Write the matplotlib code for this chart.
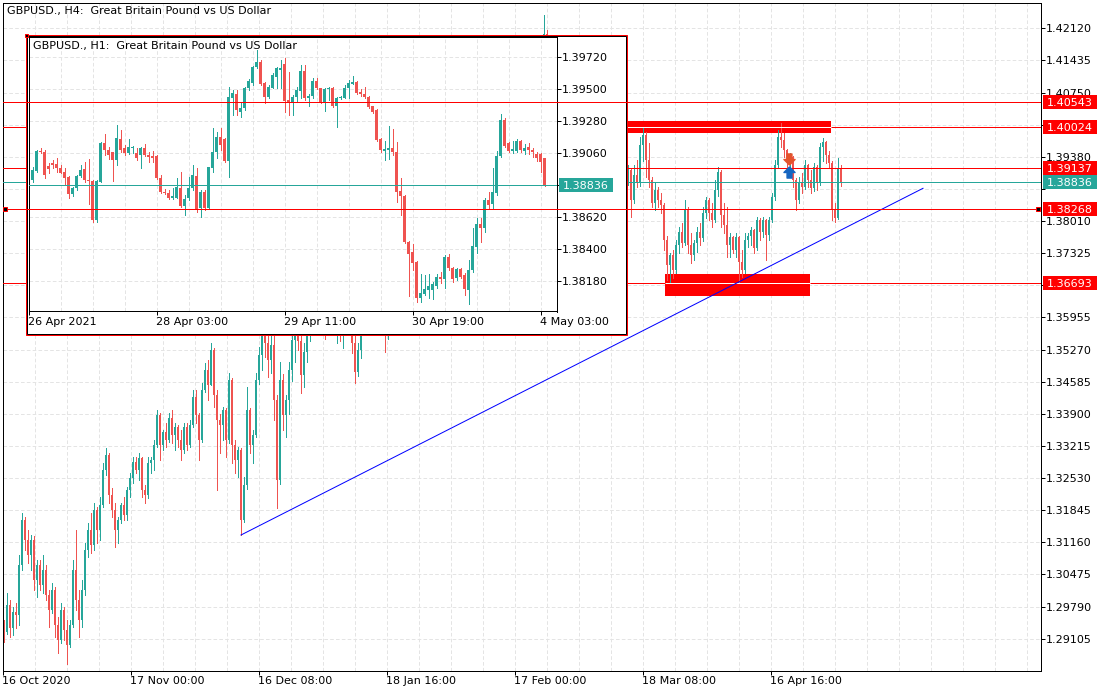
import numpy as np
import matplotlib
matplotlib.use("Agg")
import matplotlib.pyplot as plt
from matplotlib.patches import Rectangle
from matplotlib.path import Path
from matplotlib.transforms import IdentityTransform

plt.rcParams['font.family'] = ['DejaVu Sans']
plt.rcParams['font.size'] = 8
plt.rcParams['lines.scale_dashes'] = False

# ---------------- data ----------------
main_title = "GBPUSD., H4:  Great Britain Pound vs US Dollar"
inset_title = "GBPUSD., H1:  Great Britain Pound vs US Dollar"

main_date_labels = ["16 Oct 2020", "17 Nov 00:00", "16 Dec 08:00", "18 Jan 16:00",
                    "17 Feb 00:00", "18 Mar 08:00", "16 Apr 16:00"]
main_date_bars = [0, 128, 256, 384, 512, 640, 768]
main_price_ticks = [1.29105, 1.29790, 1.30475, 1.31160, 1.31845, 1.32530, 1.33215,
                    1.33900, 1.34585, 1.35270, 1.35955, 1.36640, 1.37325, 1.38010,
                    1.38695, 1.39380, 1.40065, 1.40750, 1.41435, 1.42120]
# tick labels covered by the level boxes on the price scale
main_hidden_ticks = [1.36640, 1.38695, 1.40065]

# H4 chart, each candle = 3 H4 bars (12 h)
main_open = [
    1.2940,1.2925,1.2982,1.2933,1.2967,1.2961,1.3068,1.3164,1.3121,1.3089,
    1.3121,1.3036,1.3068,1.3025,1.3057,1.3004,1.2972,1.3014,1.2940,1.2908,
    1.2972,1.2929,1.2897,1.2940,1.3057,1.2993,1.2950,1.3014,1.3100,1.3142,
    1.3110,1.3185,1.3142,1.3196,1.3270,1.3302,1.3217,1.3185,1.3142,1.3164,
    1.3196,1.3174,1.3228,1.3253,1.3287,1.3270,1.3295,1.3228,1.3217,1.3285,
    1.3291,1.3323,1.3387,1.3323,1.3351,1.3334,1.3381,1.3345,1.3362,1.3334,
    1.3313,1.3362,1.3323,1.3366,1.3426,1.3387,1.3334,1.3441,1.3483,1.3451,
    1.3526,1.3430,1.3377,1.3366,1.3398,1.3334,1.3462,1.3323,1.3291,1.3313,
    1.3164,1.3238,1.3398,1.3323,1.3345,1.3462,1.3515,1.3558,1.3540,1.3505,
    1.3537,1.3420,1.3249,1.3462,1.3387,1.3420,1.3483,1.3547,1.3580,1.3545,
    1.3473,1.3522,1.3575,1.3620,1.3600,1.3625,1.3610,1.3640,1.3605,1.3620,
    1.3600,1.3585,1.3610,1.3560,1.3590,1.3620,1.3600,1.3540,1.3480,1.3525,
    1.3575,1.3620,1.3660,1.3670,1.3650,1.3680,1.3660,1.3610,1.3560,1.3600,
    1.3650,1.3690,1.3680,1.3700,1.3730,1.3710,1.3690,1.3700,1.3690,1.3670,
    1.3690,1.3725,1.3710,1.3670,1.3700,1.3730,1.3720,1.3740,1.3770,1.3760,
    1.3780,1.3810,1.3790,1.3770,1.3790,1.3820,1.3850,1.3830,1.3860,1.3890,
    1.3910,1.3940,1.3900,1.3930,1.3960,1.3990,1.4000,1.4030,1.4010,1.3990,
    1.4020,1.4050,1.4040,1.4010,1.4040,1.4080,1.4110,1.4140,1.4130,1.4150,
    1.4180,1.4200,1.4140,1.4080,1.4000,1.3940,1.3960,1.3900,1.3930,1.3950,
    1.3970,1.3950,1.3900,1.3840,1.3860,1.3880,1.3850,1.3830,1.3860,1.3900,
    1.3920,1.3940,1.3910,1.3930,1.3960,1.3940,1.3900,1.3910,1.3882,1.3910,
    1.3846,1.3899,1.3882,1.3963,1.3985,1.3931,1.3889,1.3840,1.3867,1.3846,
    1.3835,1.3761,1.3707,1.3729,1.3697,1.3750,1.3778,1.3754,1.3825,1.3750,
    1.3729,1.3754,1.3778,1.3765,1.3818,1.3846,1.3818,1.3803,1.3867,1.3906,
    1.3814,1.3793,1.3750,1.3767,1.3739,1.3767,1.3714,1.3697,1.3761,1.3769,
    1.3782,1.3744,1.3803,1.3778,1.3803,1.3771,1.3803,1.3852,1.3921,1.3981,
    1.3974,1.3953,1.3931,1.3938,1.3889,1.3846,1.3884,1.3874,1.3921,1.3889,
    1.3871,1.3916,1.3882,1.3959,1.3970,1.3942,1.3925,1.3825,1.3808,1.3915]
main_high = [
    1.2950,1.3008,1.2993,1.2978,1.2987,1.3089,1.3178,1.3170,1.3142,1.3132,
    1.3130,1.3078,1.3078,1.3089,1.3068,1.3014,1.3029,1.3020,1.2957,1.2987,
    1.2978,1.2950,1.2950,1.3078,1.3142,1.3014,1.3036,1.3115,1.3157,1.3178,
    1.3200,1.3191,1.3213,1.3285,1.3317,1.3306,1.3232,1.3200,1.3170,1.3200,
    1.3213,1.3234,1.3264,1.3298,1.3298,1.3306,1.3298,1.3238,1.3298,1.3298,
    1.3334,1.3398,1.3392,1.3355,1.3370,1.3392,1.3398,1.3370,1.3366,1.3355,
    1.3370,1.3370,1.3377,1.3441,1.3441,1.3392,1.3456,1.3498,1.3505,1.3541,
    1.3530,1.3441,1.3390,1.3404,1.3402,1.3477,1.3466,1.3334,1.3319,1.3317,
    1.3255,1.3447,1.3402,1.3355,1.3477,1.3532,1.3575,1.3600,1.3560,1.3570,
    1.3570,1.3430,1.3500,1.3475,1.3430,1.3500,1.3570,1.3600,1.3610,1.3560,
    1.3540,1.3590,1.3640,1.3650,1.3640,1.3660,1.3650,1.3680,1.3640,1.3660,
    1.3630,1.3620,1.3650,1.3600,1.3640,1.3660,1.3620,1.3560,1.3540,1.3590,
    1.3640,1.3680,1.3700,1.3710,1.3700,1.3720,1.3680,1.3630,1.3620,1.3660,
    1.3700,1.3720,1.3710,1.3745,1.3750,1.3740,1.3720,1.3730,1.3720,1.3700,
    1.3740,1.3750,1.3730,1.3710,1.3740,1.3760,1.3750,1.3780,1.3800,1.3790,
    1.3820,1.3840,1.3820,1.3800,1.3830,1.3860,1.3880,1.3870,1.3900,1.3930,
    1.3950,1.3960,1.3940,1.3970,1.4000,1.4020,1.4050,1.4060,1.4040,1.4030,
    1.4060,1.4080,1.4060,1.4050,1.4090,1.4120,1.4150,1.4170,1.4160,1.4190,
    1.4240,1.4208,1.4160,1.4100,1.4030,1.3980,1.3990,1.3950,1.3970,1.3990,
    1.4000,1.3970,1.3930,1.3880,1.3900,1.3920,1.3880,1.3870,1.3910,1.3940,
    1.3960,1.3970,1.3950,1.3980,1.4000,1.3960,1.3930,1.3940,1.3921,1.3912,
    1.3921,1.3931,1.3981,1.4002,1.3990,1.3967,1.3895,1.3882,1.3874,1.3860,
    1.3840,1.3770,1.3733,1.3739,1.3761,1.3788,1.3797,1.3846,1.3830,1.3776,
    1.3761,1.3788,1.3797,1.3831,1.3852,1.3850,1.3840,1.3889,1.3916,1.3910,
    1.3840,1.3831,1.3776,1.3770,1.3776,1.3770,1.3739,1.3776,1.3776,1.3788,
    1.3785,1.3810,1.3807,1.3810,1.3805,1.3810,1.3861,1.3931,1.3995,1.4010,
    1.3988,1.3955,1.3946,1.3940,1.3892,1.3895,1.3903,1.3931,1.3923,1.3910,
    1.3925,1.3920,1.3967,1.3978,1.3972,1.3950,1.3929,1.3840,1.3935,1.3920]
main_low = [
    1.2904,1.2920,1.2914,1.2919,1.2933,1.2940,1.3057,1.3100,1.3072,1.3057,
    1.3014,1.2999,1.3014,1.3008,1.2993,1.2935,1.2965,1.2914,1.2880,1.2901,
    1.2908,1.2857,1.2893,1.2935,1.2972,1.2914,1.2935,1.3004,1.3085,1.3093,
    1.3100,1.3115,1.3121,1.3191,1.3260,1.3200,1.3170,1.3106,1.3115,1.3157,
    1.3164,1.3164,1.3213,1.3242,1.3264,1.3249,1.3213,1.3200,1.3210,1.3264,
    1.3270,1.3319,1.3291,1.3313,1.3319,1.3330,1.3328,1.3313,1.3319,1.3291,
    1.3306,1.3313,1.3319,1.3362,1.3370,1.3291,1.3330,1.3436,1.3419,1.3451,
    1.3404,1.3228,1.3306,1.3334,1.3298,1.3328,1.3285,1.3264,1.3255,1.3132,
    1.3160,1.3230,1.3306,1.3285,1.3340,1.3454,1.3483,1.3511,1.3468,1.3477,
    1.3377,1.3189,1.3240,1.3355,1.3340,1.3390,1.3460,1.3500,1.3526,1.3434,
    1.3447,1.3500,1.3545,1.3570,1.3560,1.3590,1.3585,1.3550,1.3575,1.3590,
    1.3560,1.3540,1.3545,1.3530,1.3560,1.3580,1.3520,1.3456,1.3470,1.3510,
    1.3560,1.3600,1.3630,1.3630,1.3620,1.3640,1.3590,1.3522,1.3550,1.3590,
    1.3630,1.3660,1.3640,1.3680,1.3690,1.3680,1.3660,1.3670,1.3650,1.3630,
    1.3680,1.3690,1.3650,1.3650,1.3680,1.3700,1.3690,1.3720,1.3740,1.3730,
    1.3760,1.3780,1.3750,1.3740,1.3770,1.3800,1.3820,1.3810,1.3840,1.3870,
    1.3890,1.3880,1.3880,1.3910,1.3940,1.3960,1.3980,1.3990,1.3970,1.3980,
    1.4000,1.4020,1.3990,1.3990,1.4020,1.4060,1.4090,1.4110,1.4100,1.4130,
    1.4160,1.4120,1.4060,1.3980,1.3920,1.3900,1.3880,1.3860,1.3890,1.3920,
    1.3930,1.3880,1.3820,1.3800,1.3820,1.3840,1.3800,1.3790,1.3840,1.3870,
    1.3890,1.3890,1.3880,1.3910,1.3930,1.3880,1.3860,1.3870,1.3878,1.3810,
    1.3840,1.3874,1.3875,1.3930,1.3895,1.3874,1.3831,1.3825,1.3831,1.3818,
    1.3739,1.3675,1.3671,1.3680,1.3690,1.3733,1.3746,1.3750,1.3733,1.3711,
    1.3718,1.3735,1.3750,1.3758,1.3808,1.3803,1.3788,1.3798,1.3855,1.3788,
    1.3775,1.3724,1.3724,1.3733,1.3724,1.3671,1.3682,1.3690,1.3746,1.3750,
    1.3733,1.3740,1.3761,1.3767,1.3718,1.3761,1.3798,1.3846,1.3916,1.3959,
    1.3938,1.3916,1.3895,1.3874,1.3825,1.3840,1.3861,1.3870,1.3874,1.3861,
    1.3865,1.3867,1.3878,1.3930,1.3925,1.3916,1.3803,1.3799,1.3805,1.3875]
main_close = [
    1.2925,1.2982,1.2933,1.2967,1.2961,1.3068,1.3164,1.3121,1.3089,1.3121,
    1.3036,1.3068,1.3025,1.3057,1.3004,1.2972,1.3014,1.2940,1.2908,1.2972,
    1.2929,1.2897,1.2940,1.3057,1.2993,1.2950,1.3014,1.3100,1.3142,1.3110,
    1.3185,1.3142,1.3196,1.3270,1.3302,1.3217,1.3185,1.3142,1.3164,1.3196,
    1.3174,1.3228,1.3253,1.3287,1.3270,1.3295,1.3228,1.3217,1.3285,1.3291,
    1.3323,1.3387,1.3323,1.3351,1.3334,1.3381,1.3345,1.3362,1.3334,1.3313,
    1.3362,1.3323,1.3366,1.3426,1.3387,1.3334,1.3441,1.3483,1.3451,1.3526,
    1.3430,1.3377,1.3366,1.3398,1.3334,1.3462,1.3323,1.3291,1.3313,1.3164,
    1.3238,1.3398,1.3323,1.3345,1.3462,1.3515,1.3558,1.3540,1.3505,1.3537,
    1.3420,1.3249,1.3462,1.3387,1.3420,1.3483,1.3547,1.3580,1.3545,1.3473,
    1.3522,1.3575,1.3620,1.3600,1.3625,1.3610,1.3640,1.3605,1.3620,1.3600,
    1.3585,1.3610,1.3560,1.3590,1.3620,1.3600,1.3540,1.3480,1.3525,1.3575,
    1.3620,1.3660,1.3670,1.3650,1.3680,1.3660,1.3610,1.3560,1.3600,1.3650,
    1.3690,1.3680,1.3700,1.3730,1.3710,1.3690,1.3700,1.3690,1.3670,1.3690,
    1.3725,1.3710,1.3670,1.3700,1.3730,1.3720,1.3740,1.3770,1.3760,1.3780,
    1.3810,1.3790,1.3770,1.3790,1.3820,1.3850,1.3830,1.3860,1.3890,1.3910,
    1.3940,1.3900,1.3930,1.3960,1.3990,1.4000,1.4030,1.4010,1.3990,1.4020,
    1.4050,1.4040,1.4010,1.4040,1.4080,1.4110,1.4140,1.4130,1.4150,1.4180,
    1.4200,1.4140,1.4080,1.4000,1.3940,1.3960,1.3900,1.3930,1.3950,1.3970,
    1.3950,1.3900,1.3840,1.3860,1.3880,1.3850,1.3830,1.3860,1.3900,1.3920,
    1.3940,1.3910,1.3930,1.3960,1.3940,1.3900,1.3910,1.3882,1.3910,1.3846,
    1.3899,1.3882,1.3963,1.3985,1.3931,1.3889,1.3840,1.3867,1.3846,1.3835,
    1.3761,1.3707,1.3729,1.3697,1.3750,1.3778,1.3754,1.3825,1.3750,1.3729,
    1.3754,1.3778,1.3765,1.3818,1.3846,1.3818,1.3803,1.3867,1.3906,1.3814,
    1.3793,1.3750,1.3767,1.3739,1.3767,1.3714,1.3697,1.3761,1.3769,1.3782,
    1.3744,1.3803,1.3778,1.3803,1.3771,1.3803,1.3852,1.3921,1.3981,1.3974,
    1.3953,1.3931,1.3938,1.3889,1.3846,1.3884,1.3874,1.3921,1.3889,1.3871,
    1.3916,1.3882,1.3959,1.3970,1.3942,1.3925,1.3825,1.3808,1.3915,1.38836]

# horizontal levels (price, drawn over the inset?)
level_prices = [1.40543, 1.40024, 1.39137, 1.38268, 1.36693]
level_on_top = [True, False, False, True, False]
bid_price = 1.38836

# zones: H4 bar start/end, price bottom/top, level crossing inside
zone_x0 = [623.5, 662.5]
zone_x1 = [828.5, 807.5]
zone_p0 = [1.39887, 1.36412]
zone_p1 = [1.40143, 1.36881]
zone_level = [1.40024, 1.36693]

trend_x = [238.5, 920.5]
trend_p = [1.31316, 1.38708]

sell_arrow = (786.5, 1.39330)
buy_arrow = (786.5, 1.39060)

# H1 inset chart
inset_date_labels = ["26 Apr 2021", "28 Apr 03:00", "29 Apr 11:00", "30 Apr 19:00", "4 May 03:00"]
inset_date_bars = [0, 32, 64, 96, 128]
inset_price_ticks = [1.38180, 1.38400, 1.38620, 1.38840, 1.39060, 1.39280, 1.39500, 1.39720]
inset_hidden_ticks = [1.38840]

inset_open = [
    1.38872,1.38934,1.39071,1.39067,1.38968,1.38992,1.38980,1.38957,1.38929,1.38895,
    1.38773,1.38815,1.38902,1.38948,1.38874,1.38865,1.38597,1.38861,1.39124,1.39078,
    1.39062,1.39010,1.39154,1.39090,1.39055,1.39090,1.39055,1.39044,1.39090,1.39044,
    1.39039,1.39039,1.38883,1.38792,1.38780,1.38746,1.38751,1.38819,1.38696,1.38746,
    1.38815,1.38902,1.38677,1.38792,1.38677,1.38953,1.39062,1.39170,1.39154,1.39003,
    1.39438,1.39461,1.39337,1.39369,1.39502,1.39541,1.39651,1.39686,1.39537,1.39445,
    1.39507,1.39582,1.39628,1.39667,1.39422,1.39411,1.39440,1.39484,1.39621,1.39434,
    1.39450,1.39555,1.39502,1.39411,1.39495,1.39502,1.39383,1.39434,1.39438,1.39502,
    1.39534,1.39546,1.39479,1.39466,1.39445,1.39381,1.39353,1.39152,1.39074,1.39078,
    1.39090,1.39062,1.38799,1.38764,1.38448,1.38377,1.38310,1.38063,1.38086,1.38118,
    1.38116,1.38145,1.38203,1.38189,1.38345,1.38265,1.38196,1.38258,1.38219,1.38116,
    1.38253,1.38414,1.38569,1.38544,1.38734,1.38705,1.38783,1.39039,1.39282,1.39129,
    1.39074,1.39071,1.39140,1.39074,1.39101,1.39078,1.39048,1.39048,1.39021]
inset_high = [
    1.38964,1.39078,1.39090,1.39078,1.38987,1.39010,1.39021,1.38975,1.38953,1.38902,
    1.38826,1.38906,1.38975,1.38998,1.39016,1.38870,1.38870,1.39136,1.39186,1.39101,
    1.39067,1.39250,1.39216,1.39113,1.39154,1.39106,1.39090,1.39101,1.39117,1.39067,
    1.39071,1.39044,1.38906,1.38810,1.38803,1.38815,1.38883,1.38929,1.38769,1.38895,
    1.38975,1.38953,1.38803,1.38803,1.38961,1.39227,1.39204,1.39227,1.39158,1.39514,
    1.39491,1.39491,1.39411,1.39514,1.39566,1.39658,1.39766,1.39697,1.39548,1.39525,
    1.39605,1.39651,1.39697,1.39709,1.39617,1.39456,1.39514,1.39663,1.39663,1.39461,
    1.39571,1.39576,1.39505,1.39507,1.39514,1.39514,1.39445,1.39450,1.39525,1.39560,
    1.39587,1.39553,1.39495,1.39511,1.39450,1.39383,1.39358,1.39158,1.39140,1.39246,
    1.39223,1.39136,1.38888,1.38769,1.38453,1.38430,1.38315,1.38223,1.38219,1.38223,
    1.38173,1.38228,1.38237,1.38356,1.38361,1.38276,1.38269,1.38265,1.38230,1.38322,
    1.38540,1.38613,1.38613,1.38746,1.38792,1.38957,1.39071,1.39326,1.39301,1.39136,
    1.39140,1.39154,1.39147,1.39117,1.39124,1.39090,1.39062,1.39055,1.39026]
inset_low = [
    1.38861,1.38929,1.39055,1.38883,1.38918,1.38953,1.38929,1.38918,1.38838,1.38746,
    1.38764,1.38803,1.38895,1.38861,1.38705,1.38586,1.38586,1.38861,1.39044,1.39016,
    1.38867,1.38975,1.39067,1.39044,1.39048,1.39060,1.39010,1.38953,1.39039,1.38998,
    1.38994,1.38879,1.38780,1.38773,1.38742,1.38739,1.38746,1.38689,1.38631,1.38734,
    1.38803,1.38654,1.38620,1.38666,1.38673,1.38929,1.39021,1.39078,1.38998,1.38895,
    1.39319,1.39319,1.39307,1.39353,1.39491,1.39525,1.39640,1.39525,1.39399,1.39434,
    1.39502,1.39502,1.39507,1.39337,1.39319,1.39319,1.39411,1.39434,1.39422,1.39383,
    1.39434,1.39498,1.39399,1.39346,1.39422,1.39376,1.39239,1.39429,1.39434,1.39434,
    1.39530,1.39461,1.39450,1.39434,1.39369,1.39330,1.39140,1.39067,1.39010,1.39016,
    1.39044,1.38723,1.38631,1.38437,1.38077,1.38253,1.38036,1.38036,1.38081,1.38058,
    1.38054,1.38127,1.38161,1.38132,1.38253,1.38173,1.38184,1.38196,1.38081,1.38017,
    1.38242,1.38368,1.38448,1.38517,1.38677,1.38673,1.38769,1.39033,1.39101,1.39062,
    1.39055,1.39067,1.39067,1.39048,1.39048,1.39033,1.39003,1.38929,1.38831]
inset_close = [
    1.38941,1.39071,1.39062,1.38906,1.38948,1.38975,1.38953,1.38922,1.38883,1.38773,
    1.38815,1.38899,1.38941,1.38870,1.38865,1.38597,1.38865,1.39124,1.39078,1.39044,
    1.39010,1.39158,1.39078,1.39060,1.39099,1.39099,1.39021,1.39090,1.39044,1.39033,
    1.39026,1.38883,1.38787,1.38780,1.38746,1.38762,1.38822,1.38696,1.38742,1.38815,
    1.38906,1.38670,1.38792,1.38677,1.38961,1.39067,1.39170,1.39113,1.39003,1.39445,
    1.39468,1.39353,1.39369,1.39502,1.39555,1.39647,1.39686,1.39530,1.39445,1.39514,
    1.39594,1.39640,1.39640,1.39415,1.39411,1.39445,1.39491,1.39621,1.39434,1.39452,
    1.39555,1.39502,1.39411,1.39498,1.39507,1.39383,1.39438,1.39445,1.39507,1.39541,
    1.39546,1.39468,1.39463,1.39445,1.39376,1.39342,1.39147,1.39078,1.39085,1.39090,
    1.39062,1.38787,1.38764,1.38448,1.38363,1.38304,1.38063,1.38093,1.38122,1.38145,
    1.38155,1.38203,1.38189,1.38345,1.38265,1.38189,1.38258,1.38203,1.38122,1.38253,
    1.38418,1.38567,1.38540,1.38734,1.38700,1.38787,1.39037,1.39282,1.39108,1.39071,
    1.39083,1.39140,1.39078,1.39094,1.39078,1.39062,1.39026,1.38998,1.38836]

# ---------------- layout / style ----------------
W, H, DPI = 1110, 694, 100
TEAL = '#26A69A'
BEAR = '#EF5350'
LRED = '#FF0000'
GRID = '#E4E4E4'
PX = 0.72  # one pixel in points
DASH = (0, (2.6, 1.6))

fig = plt.figure(figsize=(W / DPI, H / DPI), dpi=DPI)
fig.patch.set_facecolor('white')


def rect_frac(x0, y0, x1, y1):
    return [x0 / W, 1 - y1 / H, (x1 - x0) / W, (y1 - y0) / H]


def draw_candles(axis, x, o, h, l, c, width, min_h):
    o, h, l, c = map(np.asarray, (o, h, l, c))
    cols = np.where(c >= o, TEAL, BEAR)
    axis.vlines(x, l, h, colors=cols, linewidth=PX, antialiased=False, zorder=2)
    axis.bar(x, np.maximum(np.abs(c - o), min_h), width=width, bottom=np.minimum(o, c),
             color=cols, linewidth=0, antialiased=False, zorder=2.1)


def style_axes(axis):
    for s in axis.spines.values():
        s.set_color('black')
        s.set_linewidth(PX)
    axis.yaxis.tick_right()
    axis.tick_params(axis='both', which='major', direction='out', length=2.9, width=PX,
                     color='black', labelsize=8, pad=1.2, labelcolor='black')
    axis.tick_params(axis='both', which='minor', length=0)
    axis.grid(True, which='both', axis='x', color=GRID, linewidth=PX, linestyle=DASH)
    axis.grid(True, which='major', axis='y', color=GRID, linewidth=PX, linestyle=DASH)
    axis.set_axisbelow(True)


def tick_texts(ticks, hidden):
    return ["" if any(abs(t - hh) < 1e-9 for hh in hidden) else f"{t:.5f}" for t in ticks]


MAIN_RECT = rect_frac(2.5, 2.5, 1040.5, 670.5)
MAIN_YLIM = (1.28427, 1.42670)

# ---- main H4 chart ----
ax = fig.add_axes(MAIN_RECT)
ax.set_xlim(0, 1038)
ax.set_ylim(*MAIN_YLIM)
style_axes(ax)
ax.set_xticks(main_date_bars)
ax.set_xticklabels(main_date_labels)
ax.set_xticks(np.arange(32, 1038, 32), minor=True)
ax.set_yticks(main_price_ticks)
ax.set_yticklabels(tick_texts(main_price_ticks, main_hidden_ticks))
for lbl in ax.get_xticklabels():
    lbl.set_horizontalalignment('left')

main_x = 3 * np.arange(len(main_close)) + 1.5
draw_candles(ax, main_x, main_open, main_high, main_low, main_close, 2.0, 0.0002)

for zx0, zx1, zp0, zp1 in zip(zone_x0, zone_x1, zone_p0, zone_p1):
    ax.add_patch(Rectangle((zx0, zp0), zx1 - zx0, zp1 - zp0, facecolor=LRED,
                           edgecolor='none', zorder=1.5))
for lp, top in zip(level_prices, level_on_top):
    if not top:
        ax.axhline(lp, color=LRED, linewidth=PX, zorder=3)
for zx0, zx1, zl in zip(zone_x0, zone_x1, zone_level):
    ax.hlines(zl, zx0, zx1, color='white', linewidth=PX, zorder=3.1)
ax.axhline(bid_price, color=TEAL, linewidth=PX, zorder=3)
ax.plot(trend_x, trend_p, color='#0000FF', linewidth=PX, zorder=3.5)

down_path = Path([(-0.22, 0.5), (0.22, 0.5), (0.22, 0.0), (0.5, 0.0), (0.0, -0.5),
                  (-0.5, 0.0), (-0.22, 0.0), (-0.22, 0.5)], closed=True)
up_path = Path([(-0.22, -0.5), (0.22, -0.5), (0.22, 0.0), (0.5, 0.0), (0.0, 0.5),
                (-0.5, 0.0), (-0.22, 0.0), (-0.22, -0.5)], closed=True)
ax.plot([sell_arrow[0]], [sell_arrow[1]], marker=down_path, markersize=8,
        color='#E4532C', linestyle='none', zorder=4)
ax.plot([buy_arrow[0]], [buy_arrow[1]], marker=up_path, markersize=8,
        color='#1565C0', linestyle='none', zorder=4)

fig.text(7 / W, 1 - 11 / H, main_title, ha='left', va='center', fontsize=8, zorder=10)

# ---- inset container ----
fig.add_artist(Rectangle((26, H - 335), 600, 300, transform=IdentityTransform(),
                         facecolor='white', edgecolor='none', zorder=1))
fig.add_artist(Rectangle((26.5, H - 333.5), 599, 298, transform=IdentityTransform(),
                         fill=False, edgecolor='black', linewidth=PX, zorder=3))
fig.add_artist(Rectangle((25.5, H - 334.5), 601, 300, transform=IdentityTransform(),
                         fill=False, edgecolor=LRED, linewidth=PX, zorder=3))

iax = fig.add_axes(rect_frac(28.5, 36.5, 556.5, 311.5))
iax.set_zorder(2)
iax.set_facecolor('white')
iax.set_xlim(0, 132)
iax.set_ylim(1.37968, 1.39859)
style_axes(iax)
iax.set_xticks(inset_date_bars)
iax.set_xticklabels(inset_date_labels)
iax.set_xticks(np.arange(8, 132, 8), minor=True)
iax.set_yticks(inset_price_ticks)
iax.set_yticklabels(tick_texts(inset_price_ticks, inset_hidden_ticks))
for lbl in iax.get_xticklabels():
    lbl.set_horizontalalignment('left')
inset_x = np.arange(1, len(inset_close) + 1)
draw_candles(iax, inset_x, inset_open, inset_high, inset_low, inset_close, 0.75, 0.00007)
iax.axhline(bid_price, color=TEAL, linewidth=PX, zorder=3)
fig.text(33 / W, 1 - 46.5 / H, inset_title, ha='left', va='center', fontsize=8, zorder=10)

# ---- overlay: lines drawn above the inset ----
oax = fig.add_axes(MAIN_RECT)
oax.set_zorder(4)
oax.set_xlim(0, 1038)
oax.set_ylim(*MAIN_YLIM)
oax.axis('off')
oax.patch.set_visible(False)
for lp, top in zip(level_prices, level_on_top):
    if top:
        oax.axhline(lp, color=LRED, linewidth=PX, zorder=3)
oax.plot([2.5, 1035.5], [level_prices[3]] * 2, marker='s', markersize=3.2,
         markerfacecolor='black', markeredgecolor=LRED, markeredgewidth=PX,
         linestyle='none', zorder=5)
fig.add_artist(Rectangle((24.5, H - 36.5), 3, 3, transform=IdentityTransform(),
                         facecolor='black', edgecolor=LRED, linewidth=PX, zorder=6))


# ---- price label boxes ----
def price_box(axis, price, color, x0, w):
    yd = axis.transData.transform((0, price))[1]
    fig.add_artist(Rectangle((x0, yd - 7), w, 14, transform=IdentityTransform(),
                             facecolor=color, edgecolor='none', zorder=7))
    fig.text(x0 + 3.5, yd, f"{price:.5f}", transform=IdentityTransform(), color='white',
             fontsize=8, ha='left', va='center_baseline', zorder=8)


for lp in level_prices:
    price_box(ax, lp, LRED, 1043, 54)
price_box(ax, bid_price, TEAL, 1043, 54)
price_box(iax, bid_price, TEAL, 559, 54)

fig.savefig("out.png", dpi=DPI)
